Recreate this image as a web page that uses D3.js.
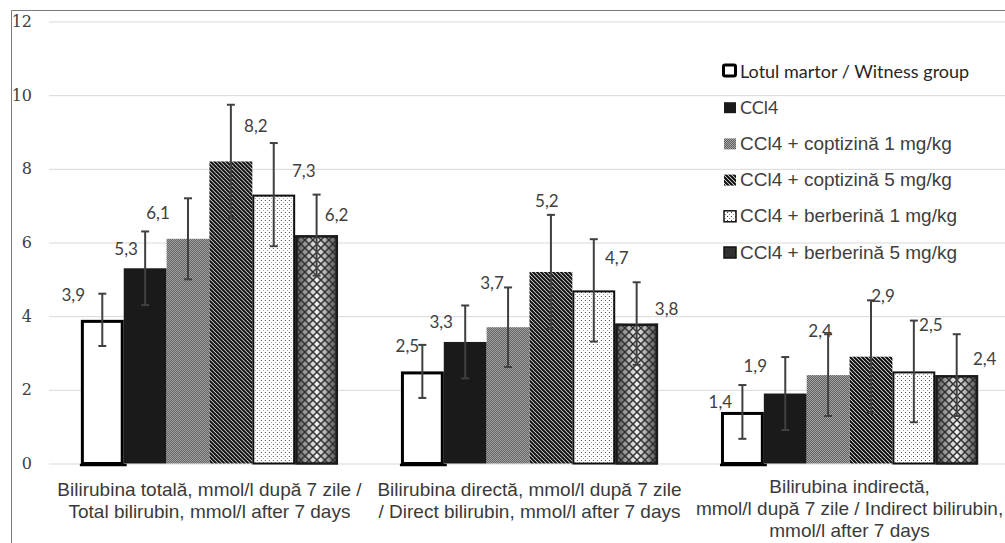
<!DOCTYPE html>
<html>
<head>
<meta charset="utf-8">
<script src="https://cdn.jsdelivr.net/npm/d3@7"></script>
<style>
  html, body { margin: 0; padding: 0; background: #fff; }
  svg { display: block; }
</style>
</head>
<body>
<svg id="chart" width="1005" height="543"></svg>
<script>
// Categories (x axis groups), each label split into lines
const categories = ["total", "direct", "indirect"];
const categoryLines = [
  ["Bilirubina totală, mmol/l după 7 zile /", "Total bilirubin, mmol/l after 7 days"],
  ["Bilirubina directă,  mmol/l după 7 zile", "/ Direct bilirubin, mmol/l after 7 days"],
  ["Bilirubina indirectă,", "mmol/l după 7 zile / Indirect bilirubin,", "mmol/l after 7 days"]
];

// Series names
const seriesNames = [
  "Lotul martor / Witness group",
  "CCl4",
  "CCl4 + coptizină 1 mg/kg",
  "CCl4 + coptizină 5 mg/kg",
  "CCl4 + berberină 1 mg/kg",
  "CCl4 + berberină 5 mg/kg"
];

// Means per series (total, direct, indirect), mmol/l
const lotulMartor   = [3.9, 2.5, 1.4];
const ccl4          = [5.3, 3.3, 1.9];
const coptizina1    = [6.1, 3.7, 2.4];
const coptizina5    = [8.2, 5.2, 2.9];
const berberina1    = [7.3, 4.7, 2.5];
const berberina5    = [6.2, 3.8, 2.4];

// Error bar half-widths per series
const errLotulMartor = [0.71, 0.72, 0.73];
const errCcl4        = [1.0, 0.99, 0.99];
const errCoptizina1  = [1.1, 1.08, 1.11];
const errCoptizina5  = [1.54, 1.55, 1.53];
const errBerberina1  = [1.4, 1.39, 1.38];
const errBerberina5  = [1.1, 1.12, 1.11];

// Y axis ticks
const yTicks = [0, 2, 4, 6, 8, 10, 12];

const seriesValues = [lotulMartor, ccl4, coptizina1, coptizina5, berberina1, berberina5];
const seriesErrors = [errLotulMartor, errCcl4, errCoptizina1, errCoptizina5, errBerberina1, errBerberina5];

// Hand-placed value label offsets [dx, dy] from bar centre / bar top, per category then series
const labelNudge = [
  [[-29, -25], [-19, -19], [-30, -26], [25, -35], [30, -24], [20, -20]],
  [[-15, -25], [-24, -20], [-16, -44], [-4, -71], [23, -32], [30, -15]],
  [[-22, -10], [-30, -28], [-8, -44], [12, -61], [17, -46], [28, -16]]
];

const svg = d3.select("#chart");
const defs = svg.append("defs");

// ---- fill patterns ----
const pGray = defs.append("pattern").attr("id", "pGray").attr("patternUnits", "userSpaceOnUse")
  .attr("width", 2).attr("height", 2);
pGray.append("rect").attr("width", 2).attr("height", 2).attr("fill", "#a8a8a8");
pGray.append("rect").attr("width", 1).attr("height", 1).attr("fill", "#5e5e5e");
pGray.append("rect").attr("x", 1).attr("y", 1).attr("width", 1).attr("height", 1).attr("fill", "#5e5e5e");

const pDiag = defs.append("pattern").attr("id", "pDiag").attr("patternUnits", "userSpaceOnUse")
  .attr("width", 4).attr("height", 4);
pDiag.append("rect").attr("width", 4).attr("height", 4).attr("fill", "#fff");
pDiag.append("path").attr("d", "M-1,-1L5,5M-1,3L1,5M3,-1L5,1")
  .attr("stroke", "#0d0d0d").attr("stroke-width", 2.1);

const pDots = defs.append("pattern").attr("id", "pDots").attr("patternUnits", "userSpaceOnUse")
  .attr("width", 4).attr("height", 4);
pDots.append("rect").attr("width", 4).attr("height", 4).attr("fill", "#fff");
pDots.append("rect").attr("width", 1).attr("height", 1).attr("fill", "#444");
pDots.append("rect").attr("x", 2).attr("y", 2).attr("width", 1).attr("height", 1).attr("fill", "#999");

const pCross = defs.append("pattern").attr("id", "pCross").attr("patternUnits", "userSpaceOnUse")
  .attr("width", 8).attr("height", 8);
pCross.append("path").attr("d", "M0,0L8,8M8,0L0,8")
  .attr("stroke", "#2e2e2e").attr("stroke-width", 1.5).attr("fill", "none");

const gShade = defs.append("linearGradient").attr("id", "gShade")
  .attr("x1", "0").attr("x2", "1").attr("y1", "0").attr("y2", "0");
gShade.append("stop").attr("offset", "0").attr("stop-color", "#4a4a4a");
gShade.append("stop").attr("offset", "0.5").attr("stop-color", "#f4f4f4");
gShade.append("stop").attr("offset", "1").attr("stop-color", "#4a4a4a");

// style per series
const seriesStyle = [
  { fill: "#fff", stroke: "#000", sw: 3 },
  { fill: "#1a1a1a", stroke: "none", sw: 0 },
  { fill: "url(#pGray)", stroke: "none", sw: 0 },
  { fill: "url(#pDiag)", stroke: "none", sw: 0 },
  { fill: "url(#pDots)", stroke: "#111", sw: 2 },
  { fill: "url(#pCross)", shade: true, stroke: "#1a1a1a", sw: 2.5 }
];

// ---- scales ----
const y = d3.scaleLinear().domain([0, 12]).range([463.5, 21.5]);
const x0 = d3.scaleBand().domain(categories).range([49.5, 1009.5])
  .paddingInner(0.1965).paddingOuter(0.098);
const x1 = d3.scaleBand().domain(d3.range(seriesNames.length)).range([0, x0.bandwidth()]);

// ---- frame ----
svg.append("path").attr("d", "M11.5,543V10.5H1005")
  .attr("fill", "none").attr("stroke", "#7a7a7a").attr("stroke-width", 1);

// ---- gridlines + y axis ----
const yAxis = d3.axisLeft(y).tickValues(yTicks).tickSize(-(1005 - 49)).tickPadding(17)
  .tickFormat(d3.format("d"));
const gy = svg.append("g").attr("transform", "translate(49,0)").call(yAxis);
gy.select(".domain").remove();
gy.selectAll(".tick line").attr("stroke", "#d9d9d9").attr("stroke-width", 1);
gy.selectAll(".tick text")
  .attr("font-family", "'DejaVu Serif', serif").attr("font-size", 16)
  .attr("fill", "#404040");

// ---- bars ----
const groups = svg.append("g").selectAll("g").data(categories).join("g")
  .attr("transform", d => `translate(${x0(d)},0)`);

groups.each(function (cat, ci) {
  const g = d3.select(this);
  seriesNames.forEach((name, si) => {
    const v = seriesValues[si][ci];
    const st = seriesStyle[si];
    const bx = x1(si), bw = x1.bandwidth();
    const inset = st.sw ? st.sw / 2 : 0;
    if (st.shade) {
      g.append("rect").attr("x", bx).attr("y", y(v)).attr("width", bw)
        .attr("height", y(0) - y(v)).attr("fill", "url(#gShade)");
    }
    g.append("rect")
      .attr("x", bx + inset).attr("y", y(v) + inset)
      .attr("width", bw - 2 * inset).attr("height", y(0) - y(v) - inset)
      .attr("fill", st.fill).attr("stroke", st.stroke).attr("stroke-width", st.sw);
  });
});

// bottom rule under the white bars
groups.append("line")
  .attr("x1", x1(0) - 1).attr("x2", x1(0) + x1.bandwidth() + 3)
  .attr("y1", y(0) + 1.5).attr("y2", y(0) + 1.5)
  .attr("stroke", "#000").attr("stroke-width", 2.5);

// ---- error bars ----
groups.each(function (cat, ci) {
  const g = d3.select(this);
  seriesNames.forEach((name, si) => {
    const v = seriesValues[si][ci], e = seriesErrors[si][ci];
    const cx = x1(si) + x1.bandwidth() / 2;
    const eg = g.append("g").attr("stroke", "#404040").attr("stroke-width", 2);
    eg.append("line").attr("x1", cx).attr("x2", cx).attr("y1", y(v + e)).attr("y2", y(v - e));
    eg.append("line").attr("x1", cx - 4).attr("x2", cx + 4).attr("y1", y(v + e)).attr("y2", y(v + e));
    eg.append("line").attr("x1", cx - 4).attr("x2", cx + 4).attr("y1", y(v - e)).attr("y2", y(v - e));
  });
});

// ---- value labels ----
const fmt = v => d3.format(".1f")(v).replace(".", ",");
groups.each(function (cat, ci) {
  const g = d3.select(this);
  seriesNames.forEach((name, si) => {
    const v = seriesValues[si][ci];
    const [dx, dy] = labelNudge[ci][si];
    g.append("text")
      .attr("x", x1(si) + x1.bandwidth() / 2 + dx)
      .attr("y", y(v) + dy + 6)
      .attr("text-anchor", "middle")
      .attr("font-family", "Lato, sans-serif").attr("font-size", 17)
      .attr("fill", "#404040")
      .text(fmt(v));
  });
});

// ---- category labels ----
categories.forEach((cat, ci) => {
  const lines = categoryLines[ci];
  const t = svg.append("text")
    .attr("text-anchor", "middle")
    .attr("font-family", "'Liberation Sans', Arial, sans-serif").attr("font-size", 19)
    .attr("fill", "#3a3a3a");
  lines.forEach((ln, li) => {
    t.append("tspan").attr("x", x0(cat) + x0.bandwidth() / 2)
      .attr("y", (lines.length > 2 ? 493 : 496) + li * 22)
      .text(ln);
  });
});

// ---- legend ----
const legend = svg.append("g").attr("transform", "translate(723,0)");
const legendY = d3.scalePoint().domain(d3.range(seriesNames.length)).range([71, 252]);
seriesNames.forEach((name, si) => {
  const cy = legendY(si);
  const li = legend.append("g");
  if (si === 0) {
    li.append("rect").attr("x", 0.5).attr("y", cy - 6).attr("width", 12).attr("height", 11)
      .attr("fill", "#fff").attr("stroke", "#000").attr("stroke-width", 3).attr("rx", 1.5);
  } else {
    const st = seriesStyle[si];
    if (st.shade) {
      li.append("rect").attr("x", 1).attr("y", cy - 5).attr("width", 12).attr("height", 11)
        .attr("fill", "#333");
    }
    li.append("rect").attr("x", 1).attr("y", cy - 5).attr("width", 12).attr("height", 11)
      .attr("fill", st.shade ? "url(#pCross)" : st.fill)
      .attr("stroke", st.sw ? "#111" : "none").attr("stroke-width", st.sw ? 1.5 : 0);
  }
  const calibriLike = si < 2;
  li.append("text").attr("x", 17).attr("y", cy + 6.5)
    .attr("font-family", calibriLike ? "Lato, sans-serif" : "'Liberation Sans', Arial, sans-serif")
    .attr("font-size", calibriLike ? 18 : 19)
    .attr("fill", si === 0 ? "#262626" : "#404040")
    .text(name);
});
</script>
</body>
</html>
